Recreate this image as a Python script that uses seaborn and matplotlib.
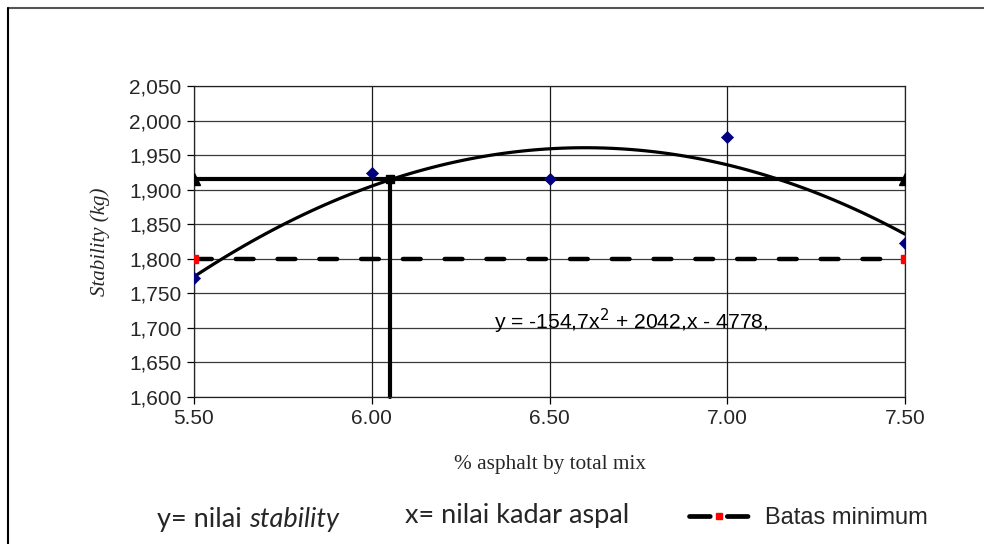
import numpy as np
import pandas as pd
import matplotlib
matplotlib.use("Agg")
import matplotlib.pyplot as plt
import seaborn as sns
from matplotlib.lines import Line2D
from matplotlib.ticker import FuncFormatter

# ---- data ----
asphalt = [5.5, 6.0, 6.5, 7.0, 7.5]
stability = [1772, 1924, 1915, 1976, 1823]
limit_x = [5.5, 7.5]
limit_y = [1800, 1800]
target_x = [5.5, 7.5]
target_y = [1915, 1915]
optimum_x = [6.05, 6.05]
optimum_y = [1915, 1600]
equation = "y = -154,7x$^2$ + 2042,x - 4778,"
eq_pos = (6.345, 1710)
x_ticks = [5.5, 6.0, 6.5, 7.0, 7.5]
y_ticks = list(range(1600, 2051, 50))

sns.set_theme(style="white")
plt.rcParams["font.family"] = ["Liberation Sans", "DejaVu Sans"]

fig = plt.figure(figsize=(9.84, 5.44), dpi=100)
ax = fig.add_axes([194/984, 1-397/544, (905-194)/984, (397-86)/544])

df = pd.DataFrame({"asphalt": asphalt, "stability": stability})

# grid
for yt in y_ticks:
    ax.axhline(yt, color="#3a3a3a", lw=0.9, zorder=0)
for xt in x_ticks:
    ax.axvline(xt, color="#1a1a1a", lw=0.9, zorder=0)

# limit dashed line
ax.plot(limit_x, limit_y, color="black", lw=3.2, dashes=(4.0, 5.4),
        dash_capstyle="round", zorder=2)
ax.plot(limit_x, limit_y, ls="none", marker="s", color="red", ms=5.5,
        mec="red", zorder=3)

# target horizontal line
ax.plot(target_x, target_y, color="black", lw=3.0, zorder=2)
ax.plot(target_x, target_y, ls="none", marker="^", color="black", ms=8.5, zorder=3)
# optimum vertical line
ax.plot(optimum_x, optimum_y, color="black", lw=3.0, zorder=2, clip_on=False)
ax.plot(optimum_x[:1], optimum_y[:1], ls="none", marker="s", color="black",
        ms=6, zorder=3)

# polynomial trendline
sns.regplot(data=df, x="asphalt", y="stability", order=2, ci=None,
            scatter=False, truncate=True, ax=ax,
            line_kws={"color": "black", "lw": 2.3, "zorder": 2})
# data points
sns.scatterplot(data=df, x="asphalt", y="stability", marker="D", s=38,
                color="#000080", edgecolor="#000080", ax=ax, zorder=4)

ax.text(eq_pos[0], eq_pos[1], equation, fontsize=15.2, va="center", ha="left",
        color="black", zorder=5)

ax.set_xlim(5.5, 7.5)
ax.set_ylim(1600, 2050)
ax.set_xticks(x_ticks)
ax.set_yticks(y_ticks)
ax.xaxis.set_major_formatter(FuncFormatter(lambda v, p: f"{v:.2f}"))
ax.yaxis.set_major_formatter(FuncFormatter(lambda v, p: f"{v:,.0f}"))
ax.tick_params(axis="both", labelsize=15, length=5, width=0.9, color="black",
               direction="out", bottom=True, left=True, pad=4)
for s in ax.spines.values():
    s.set_color("#222222")
    s.set_linewidth(0.9)

ax.set_xlabel("% asphalt by total mix", fontsize=15.3,
              family=["Liberation Serif", "DejaVu Serif"], labelpad=19)
ax.set_ylabel("Stability (kg)", fontsize=15, style="italic",
              family=["Liberation Serif", "DejaVu Serif"], labelpad=14)

# frame lines around the chart
fig.add_artist(Line2D([8/984, 1.0], [1-8/544, 1-8/544], transform=fig.transFigure,
                      color="#555555", lw=1.5))
fig.add_artist(Line2D([8/984, 8/984], [0, 1-8/544], transform=fig.transFigure,
                      color="black", lw=1.5))

# bottom notes
fig.canvas.draw()
r = fig.canvas.get_renderer()
t1 = fig.text(157/984, 1-519/544, "y= nilai ", fontsize=19.5, family=["Lato", "DejaVu Sans"],
              va="center", ha="left")
bb = t1.get_window_extent(r)
fig.text(bb.x1/984, 1-519/544, "stability", fontsize=19.5, style="italic",
         family=["Lato", "DejaVu Sans"], va="center", ha="left")
fig.text(405/984, 1-515/544, "x= nilai kadar aspal", fontsize=19.5,
         family=["Lato", "DejaVu Sans"], va="center", ha="left")

handle = Line2D([], [], color="black", lw=3.4, dashes=(4.4, 3.6), marker="s",
                dash_capstyle="round", mfc="red", mec="red", ms=5)
fig.legend(handles=[handle], labels=["Batas minimum"], loc="center left",
           bbox_to_anchor=(689/984, 1-518/544), frameon=False, fontsize=17,
           handlelength=2.55, handletextpad=0.65, borderpad=0, borderaxespad=0)

fig.savefig("out.png", dpi=100)
